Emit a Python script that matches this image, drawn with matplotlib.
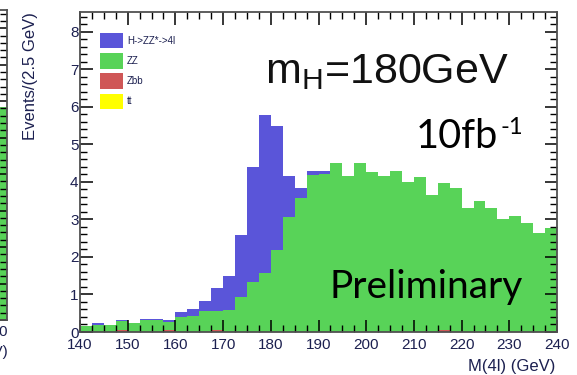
import numpy as np
import matplotlib
matplotlib.use('Agg')
import matplotlib.pyplot as plt
from matplotlib.ticker import MultipleLocator

plt.rcParams['font.family'] = ['Liberation Sans', 'DejaVu Sans']
plt.rcParams['mathtext.default'] = 'regular'

# 4-lepton mass spectrum, 2.5 GeV bins from 140 to 240 GeV
bin_edges = np.arange(140, 240.01, 2.5)
higgs = [0.00, 0.06, 0.00, 0.02, 0.00, 0.02, 0.03, 0.06, 0.11, 0.17,
         0.28, 0.60, 0.91, 1.65, 3.08, 4.22, 3.29, 1.08, 0.28, 0.09,
         0.08, 0.00, 0.00, 0.00, 0.00, 0.00, 0.00, 0.00, 0.00, 0.00,
         0.00, 0.00, 0.00, 0.00, 0.00, 0.00, 0.00, 0.00, 0.00, 0.00]
zz = [0.17, 0.19, 0.19, 0.26, 0.25, 0.33, 0.32, 0.22, 0.41, 0.43,
      0.55, 0.53, 0.59, 0.94, 1.32, 1.57, 2.19, 3.07, 3.56, 4.19,
      4.22, 4.50, 4.17, 4.50, 4.26, 4.17, 4.28, 4.00, 4.14, 3.66,
      3.93, 3.84, 3.30, 3.48, 3.30, 3.01, 3.08, 2.90, 2.64, 2.77]
zbb = [0.00, 0.00, 0.00, 0.04, 0.00, 0.00, 0.00, 0.04, 0.00, 0.00,
       0.00, 0.04, 0.00, 0.00, 0.00, 0.00, 0.00, 0.00, 0.00, 0.00,
       0.00, 0.00, 0.00, 0.00, 0.00, 0.00, 0.00, 0.00, 0.00, 0.00,
       0.04, 0.00, 0.00, 0.00, 0.00, 0.00, 0.00, 0.00, 0.00, 0.00]
ttbar = [0.0] * 40
labels = ['H->ZZ*->4l', 'ZZ', 'Zbb', 'tt']
colors = ['#5a55d9', '#58d358', '#cf5757', '#ffff00']

# neighbouring panel, only its right edge is in view
neighbour_level = 5.85

W, H = 577, 375
fig = plt.figure(figsize=(W / 100, H / 100), dpi=100)

def px(x0, y0, x1, y1):
    return [x0 / W, 1 - y1 / H, (x1 - x0) / W, (y1 - y0) / H]

tick_color = '#1c2050'
frame_color = '#505050'

def root_style(ax):
    for s in ax.spines.values():
        s.set_color(frame_color)
        s.set_linewidth(1.3)
    ax.tick_params(which='both', direction='in', top=True, right=True,
                   colors='black', labelcolor=tick_color, labelsize=11)
    ax.tick_params(which='major', length=9, width=1.1)
    ax.tick_params(which='minor', length=5, width=1.0)

# neighbouring panel
axn = fig.add_axes(px(-100, 10, 7, 320))
axn.bar([0], [neighbour_level], width=10, color=colors[1], linewidth=0)
axn.set_xlim(-5, 5)
axn.set_ylim(0, 8.5)
axn.yaxis.set_major_locator(MultipleLocator(1))
axn.yaxis.set_minor_locator(MultipleLocator(0.2))
root_style(axn)
axn.tick_params(labelleft=False, labelbottom=False, bottom=False, top=False)
fig.text(8 / W, 1 - 332 / H, '200', ha='right', va='center',
         color=tick_color, fontsize=11)
fig.text(8 / W, 1 - 352 / H, '(GeV)', ha='right', va='center',
         color=tick_color, fontsize=11)

# main histogram
ax = fig.add_axes(px(80, 12, 557, 332))
x = bin_edges[:-1]
bottom = np.zeros(len(x))
handles = {}
for name, vals, c in [('Zbb', zbb, colors[2]), ('tt', ttbar, colors[3]),
                      ('ZZ', zz, colors[1]), ('H', higgs, colors[0])]:
    vals = np.array(vals)
    handles[name] = ax.bar(x, vals, width=2.5, bottom=bottom, align='edge',
                           color=c, linewidth=0)
    bottom = bottom + vals

ax.set_xlim(140, 240)
ax.set_ylim(0, 8.53)
ax.xaxis.set_major_locator(MultipleLocator(10))
ax.xaxis.set_minor_locator(MultipleLocator(2.5))
ax.yaxis.set_major_locator(MultipleLocator(1))
ax.yaxis.set_minor_locator(MultipleLocator(0.2))
root_style(ax)
ax.tick_params(axis='y', pad=1)
ax.tick_params(axis='x', pad=4)

leg = ax.legend([handles['H'], handles['ZZ'], handles['Zbb'], handles['tt']],
                labels, loc='upper left',
                bbox_to_anchor=(100 / W, 1 - 33 / H),
                bbox_transform=fig.transFigure, frameon=False, fontsize=7,
                borderpad=0, borderaxespad=0, handlelength=2.4,
                handleheight=2.05, labelspacing=0.5, handletextpad=0.4,
                labelcolor=tick_color)

fig.text(30 / W, 1 - 12 / H, 'Events/(2.5 GeV)', rotation=90, ha='center',
         va='top', color=tick_color, fontsize=12)
fig.text(555 / W, 1 - 371 / H, 'M(4l) (GeV)', ha='right', va='baseline',
         color=tick_color, fontsize=12)

# overlaid annotations
fig.text(265 / W, 1 - 83 / H, r'm$_{H}$=180GeV', ha='left', va='baseline',
         fontsize=31, color='#111111')
fig.text(416 / W, 1 - 148 / H, '10fb', ha='left', va='baseline',
         fontsize=28.5, family=['Lato', 'DejaVu Sans'], color='black')
fig.text(500 / W, 1 - 134 / H, '-1', ha='left', va='baseline',
         fontsize=17, family=['Lato', 'DejaVu Sans'], color='black')
fig.text(330 / W, 1 - 298 / H, 'Preliminary', ha='left', va='baseline',
         fontsize=28, family=['Lato', 'DejaVu Sans'], color='black')

fig.savefig('out.png', dpi=100)
